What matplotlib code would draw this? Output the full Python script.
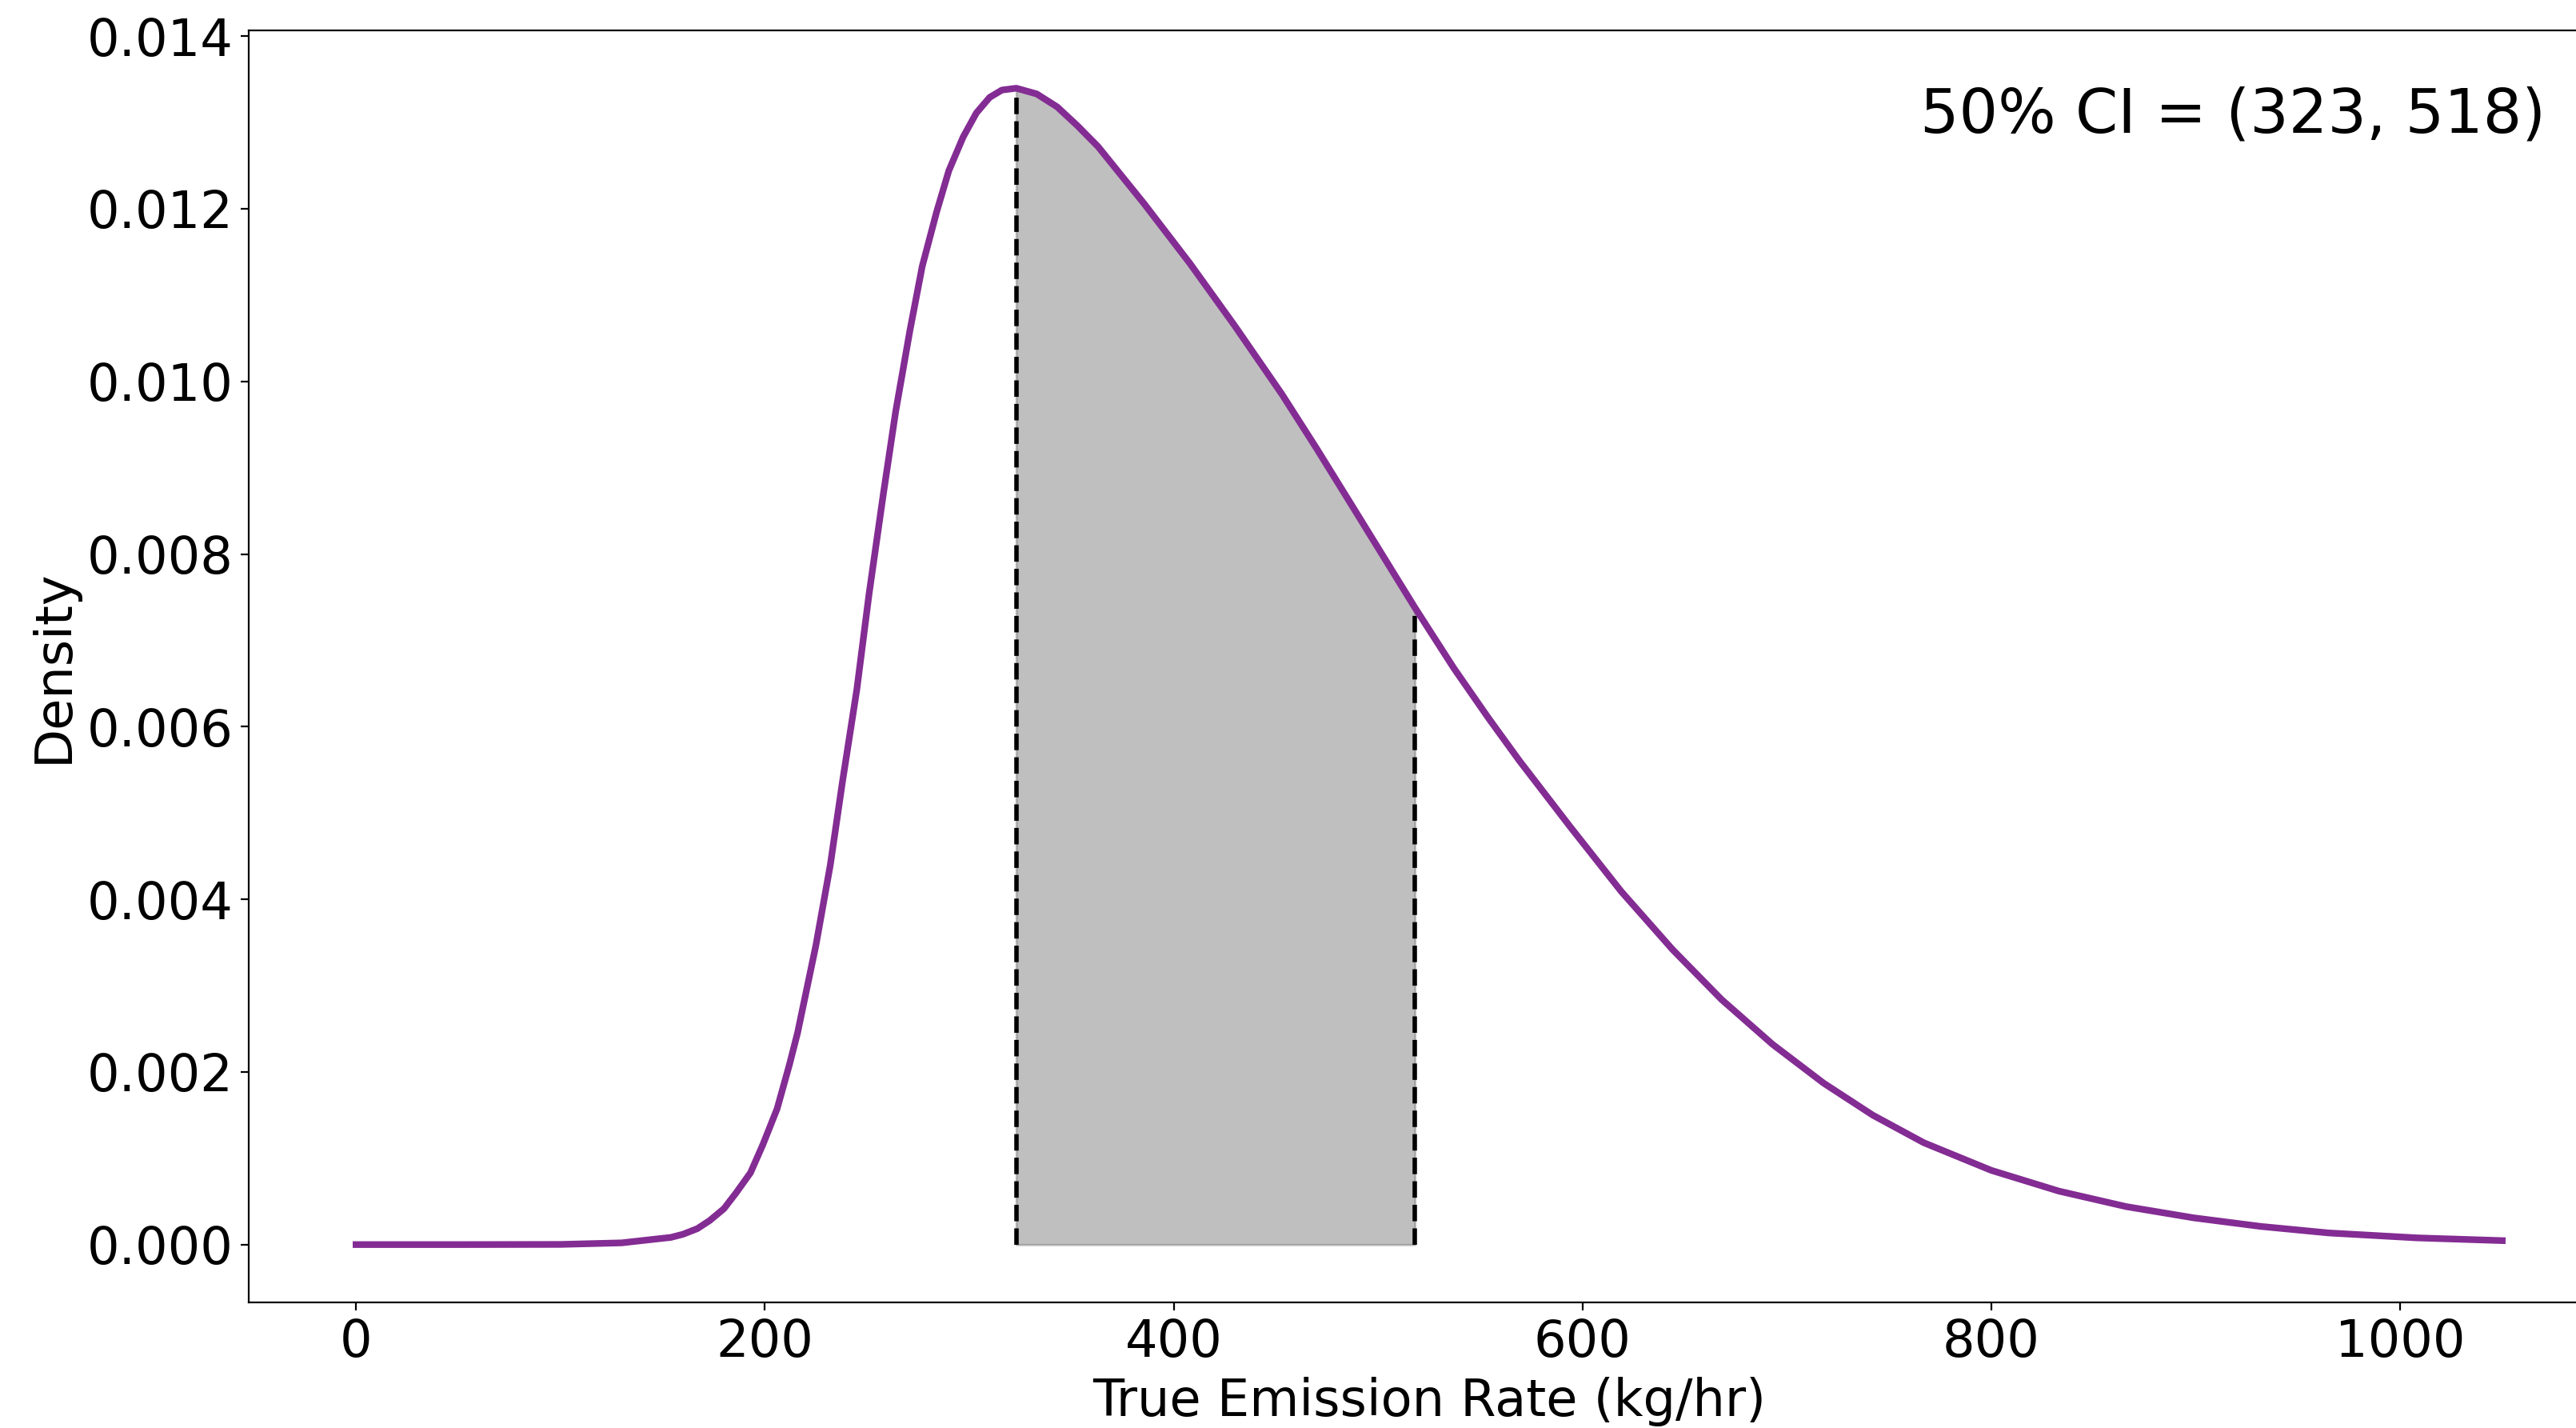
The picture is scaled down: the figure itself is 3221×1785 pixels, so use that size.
import numpy as np
import matplotlib
matplotlib.use("Agg")
import matplotlib.pyplot as plt

# Posterior density of the true emission rate (kg/hr)
emission_rate = [0, 50, 100, 130, 147, 154, 160, 167, 173, 180, 186, 193, 199,
                 206, 212, 216, 225, 232, 238, 245, 251, 258, 264, 271, 277,
                 284, 290, 297, 303.5, 310, 316, 323, 333, 343, 353, 363,
                 385.5, 408, 430, 453, 470, 487, 518, 537, 554, 569, 594, 619,
                 644, 668, 693, 718, 742, 767, 800, 833, 866, 899, 932, 965,
                 1008, 1050]
density = [0.0, 0.0, 0.000002, 0.00002, 0.000065, 0.000083, 0.00012,
           0.000185, 0.000278, 0.000416, 0.000601, 0.000833, 0.001156,
           0.001573, 0.002082, 0.002452, 0.003469, 0.004394, 0.005366,
           0.00643, 0.00754, 0.00870, 0.00965, 0.010593, 0.011333, 0.01196,
           0.01244, 0.01283, 0.01311, 0.01329, 0.013375, 0.013396, 0.01333,
           0.01318, 0.01296, 0.01272, 0.01206, 0.011365, 0.01064, 0.00985,
           0.00922, 0.00857, 0.00738, 0.00668, 0.00610, 0.00561, 0.00484,
           0.00409, 0.00342, 0.00284, 0.00232, 0.00187, 0.00150, 0.00118,
           0.00086, 0.00062, 0.00044, 0.00031, 0.00021, 0.000135, 0.000078,
           0.000046]

# 50% credible interval bounds
ci_low = 323
ci_high = 518
ci_level = 50

x = np.array(emission_rate, dtype=float)
y = np.array(density, dtype=float)

fig = plt.figure(figsize=(3221 / 200, 1785 / 200), dpi=200)
ax = fig.add_axes([311 / 3221, 157 / 1785, 2952 / 3221, 1590 / 1785])

ax.plot(x, y, color="#832c93", lw=3, zorder=3, solid_joinstyle="round")

inside = (x >= ci_low) & (x <= ci_high)
ax.fill_between(x[inside], y[inside], color="gray", alpha=0.5, zorder=1)

y_low = np.interp(ci_low, x, y)
y_high = np.interp(ci_high, x, y)
ax.vlines([ci_low, ci_high], 0, [y_low, y_high], colors="black",
          linestyles="--", lw=2, zorder=2)

ax.set_xlabel("True Emission Rate (kg/hr)", fontsize=23)
ax.set_ylabel("Density", fontsize=23)
ax.tick_params(axis="both", labelsize=23)
ax.yaxis.set_major_formatter(matplotlib.ticker.FormatStrFormatter("%.3f"))

ax.text(0.973, 0.920, f"{ci_level}% CI = ({ci_low}, {ci_high})",
        transform=ax.transAxes, ha="right", va="baseline", fontsize=27.5)

fig.savefig("out.png", dpi=200)
